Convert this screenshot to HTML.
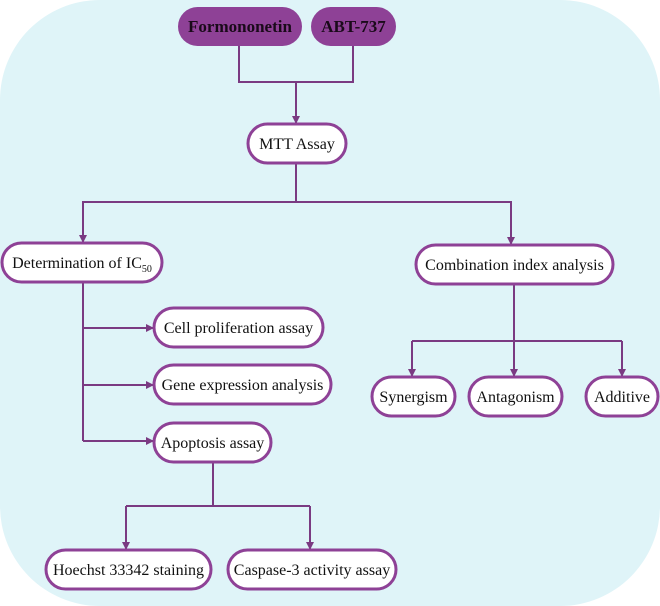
<!DOCTYPE html>
<html><head><meta charset="utf-8"><style>
html,body{margin:0;padding:0;background:#fff;}
svg{display:block;}
text{font-family:"Liberation Serif",serif;font-size:16px;fill:#111;}
</style></head><body>
<svg width="660" height="606" viewBox="0 0 660 606" xmlns="http://www.w3.org/2000/svg">
<defs>
<marker id="a" markerWidth="8" markerHeight="8" refX="7" refY="4" orient="auto" markerUnits="userSpaceOnUse">
<path d="M0,0 L8,4 L0,8 z" fill="#7a3a82"/></marker>
</defs>
<rect x="0" y="0" width="660" height="606" rx="100" ry="100" fill="#dff4f8"/>
<g stroke="#7a3a82" stroke-width="2" fill="none">
<path d="M239,46 V82 H353 V46"/>
<path d="M296,82 V123" marker-end="url(#a)"/>
<path d="M296,163 V202 H83 V242" marker-end="url(#a)"/>
<path d="M296,202 H511 V244" marker-end="url(#a)"/>
<path d="M83,282 V441"/>
<path d="M83,328 H153" marker-end="url(#a)"/>
<path d="M83,385 H153" marker-end="url(#a)"/>
<path d="M83,441 H153" marker-end="url(#a)"/>
<path d="M213,462 V506"/>
<path d="M126,506 H310"/>
<path d="M126,506 V549" marker-end="url(#a)"/>
<path d="M310,506 V549" marker-end="url(#a)"/>
<path d="M514,284 V376" marker-end="url(#a)"/>
<path d="M412,341 H622"/>
<path d="M412,341 V376" marker-end="url(#a)"/>
<path d="M622,341 V376" marker-end="url(#a)"/>
</g>
<g fill="#8e4196">
<rect x="178" y="7" width="124" height="39" rx="19.5"/>
<rect x="311" y="7" width="85" height="39" rx="19.5"/>
</g>
<g fill="#fff" stroke="#8e4196" stroke-width="3">
<rect x="248" y="124" width="98" height="39" rx="19.5"/>
<rect x="2" y="243" width="160" height="39" rx="19.5"/>
<rect x="416" y="245" width="197" height="39" rx="19.5"/>
<rect x="154" y="308" width="169" height="39" rx="19.5"/>
<rect x="154" y="365" width="177" height="39" rx="19.5"/>
<rect x="154" y="423" width="117" height="39" rx="19.5"/>
<rect x="46" y="550" width="165" height="39" rx="19.5"/>
<rect x="228" y="550" width="168" height="39" rx="19.5"/>
<rect x="372" y="377" width="83" height="39" rx="19.5"/>
<rect x="469" y="377" width="93" height="39" rx="19.5"/>
<rect x="586" y="377" width="72" height="39" rx="19.5"/>
</g>
<g text-anchor="middle">
<text x="240" y="32" font-weight="bold" style="font-size:17px;fill:#1a0a1a">Formononetin</text>
<text x="353.5" y="32" font-weight="bold" style="font-size:17px;fill:#1a0a1a">ABT-737</text>
<text x="297" y="149">MTT Assay</text>
<text x="82" y="268">Determination of IC<tspan dy="4" style="font-size:10px">50</tspan></text>
<text x="514.5" y="270">Combination index analysis</text>
<text x="238.5" y="333">Cell proliferation assay</text>
<text x="242.5" y="390">Gene expression analysis</text>
<text x="212.5" y="448">Apoptosis assay</text>
<text x="128.5" y="575">Hoechst 33342 staining</text>
<text x="312" y="575">Caspase-3 activity assay</text>
<text x="413.5" y="402">Synergism</text>
<text x="515.5" y="402">Antagonism</text>
<text x="622" y="402">Additive</text>
</g>
</svg>
</body></html>
